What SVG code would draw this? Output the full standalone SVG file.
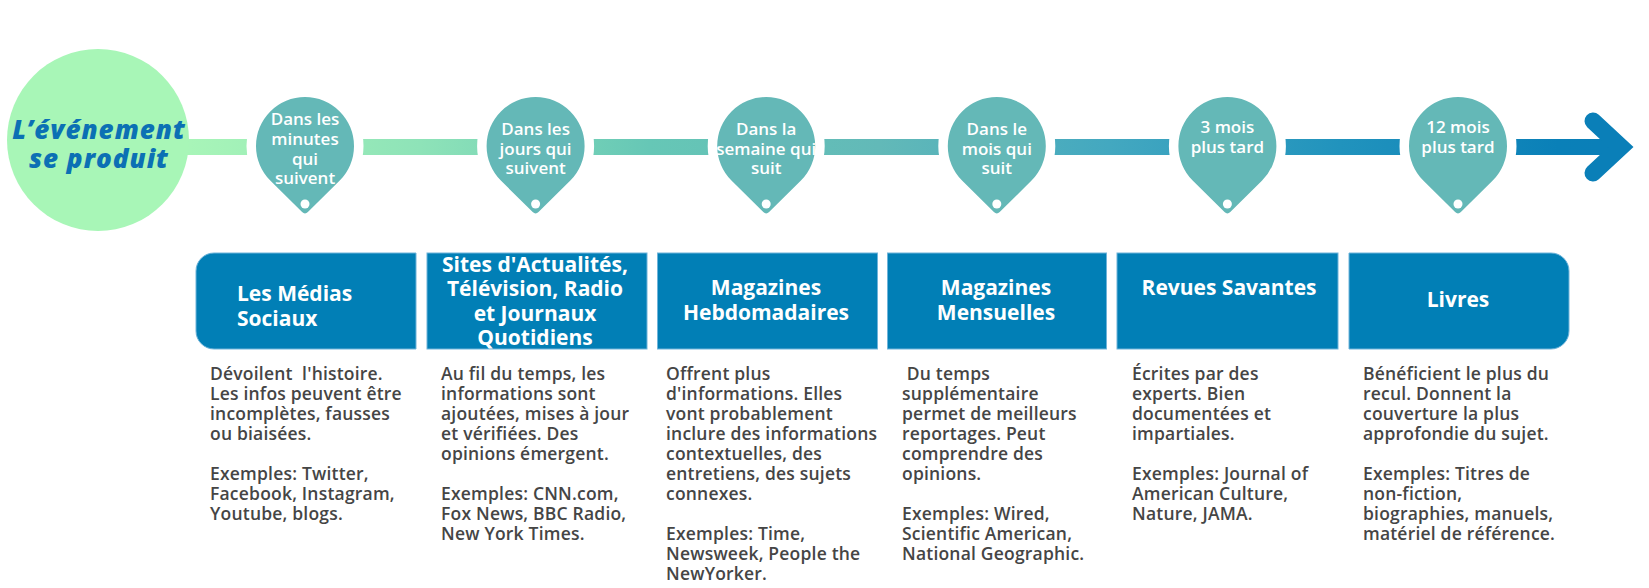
<svg xmlns="http://www.w3.org/2000/svg" width="1649" height="588" viewBox="0 0 1649 588">
<defs>
<linearGradient id="barGrad" gradientUnits="userSpaceOnUse" x1="190" y1="0" x2="1600" y2="0">
<stop offset="0" stop-color="#a8f5b8"/>
<stop offset="0.163" stop-color="#8ee3b8"/>
<stop offset="0.326" stop-color="#66c7b6"/>
<stop offset="0.489" stop-color="#62b9b8"/>
<stop offset="0.652" stop-color="#43a8c0"/>
<stop offset="0.816" stop-color="#2193bd"/>
<stop offset="0.97" stop-color="#0a80b8"/>
<stop offset="1" stop-color="#0a7fb8"/>
</linearGradient>
<path id="pin" d="M-34.5,180.8 A49,49 0 1 1 34.5,180.8 L2.9,212.1 Q0,215 -2.9,212.1 Z"/>
</defs>
<style>
.pin{fill:#64b8b7;stroke:#ffffff;stroke-width:19;paint-order:stroke;stroke-linejoin:round}
.dot{fill:#ffffff}
.pt{font-family:"Open Sans","Noto Sans",sans-serif;font-weight:600;font-size:17px;fill:#ffffff;text-anchor:middle}
.box{fill:#017fb6;stroke:#6fb4da;stroke-width:1}
.bt{font-family:"Open Sans","Noto Sans",sans-serif;font-weight:700;font-size:21px;fill:#ffffff;text-anchor:middle}
.body{font-family:"Open Sans","Noto Sans",sans-serif;font-weight:600;font-size:17.5px;letter-spacing:0.2px;fill:#454545}
.start{font-family:"Open Sans","Noto Sans",sans-serif;font-weight:800;font-style:italic;font-size:26px;letter-spacing:1px;fill:#0b70b4;text-anchor:middle}
</style>
<rect width="1649" height="588" fill="#ffffff"/>

<g id="connectors">
<rect x="100" y="139" width="1522" height="16" fill="url(#barGrad)"/>
<path d="M1593,121 L1621,147 L1593,173" fill="none" stroke="#0a7fb8" stroke-width="17" stroke-linecap="round" stroke-linejoin="miter"/>
</g>

<g id="node-start">
<circle cx="98" cy="140" r="91" fill="#a8f6b7"/>
<text class="start" x="99" y="139">L’événement</text>
<text class="start" x="99" y="168">se produit</text>
</g>

<g id="pin-1">
<use href="#pin" class="pin" x="305"/>
<circle class="dot" cx="305" cy="204" r="4.5"/>
<text class="pt" x="305" y="125">Dans les</text>
<text class="pt" x="305" y="145">minutes</text>
<text class="pt" x="305" y="165">qui</text>
<text class="pt" x="305" y="184">suivent</text>
</g>

<g id="pin-2">
<use href="#pin" class="pin" x="535.6"/>
<circle class="dot" cx="535.6" cy="204" r="4.5"/>
<text class="pt" x="535.6" y="135">Dans les</text>
<text class="pt" x="535.6" y="154.5">jours qui</text>
<text class="pt" x="535.6" y="174">suivent</text>
</g>

<g id="pin-3">
<use href="#pin" class="pin" x="766.2"/>
<circle class="dot" cx="766.2" cy="204" r="4.5"/>
<text class="pt" x="766.2" y="135">Dans la</text>
<text class="pt" x="766.2" y="154.5">semaine qui</text>
<text class="pt" x="766.2" y="174">suit</text>
</g>

<g id="pin-4">
<use href="#pin" class="pin" x="996.8"/>
<circle class="dot" cx="996.8" cy="204" r="4.5"/>
<text class="pt" x="996.8" y="135">Dans le</text>
<text class="pt" x="996.8" y="154.5">mois qui</text>
<text class="pt" x="996.8" y="174">suit</text>
</g>

<g id="pin-5">
<use href="#pin" class="pin" x="1227.4"/>
<circle class="dot" cx="1227.4" cy="204" r="4.5"/>
<text class="pt" x="1227.4" y="133">3 mois</text>
<text class="pt" x="1227.4" y="153">plus tard</text>
</g>

<g id="pin-6">
<use href="#pin" class="pin" x="1458"/>
<circle class="dot" cx="1458" cy="204" r="4.5"/>
<text class="pt" x="1458" y="133">12 mois</text>
<text class="pt" x="1458" y="153">plus tard</text>
</g>

<g id="box-1">
<path class="box" d="M214,253 H416 V349 H214 A18,18 0 0 1 196,331 V271 A18,18 0 0 1 214,253 Z"/>
<text class="bt" x="237" y="301" style="text-anchor:start">Les Médias</text>
<text class="bt" x="237" y="326" style="text-anchor:start">Sociaux</text>
<text class="body" x="210" y="380">
<tspan x="210" dy="0">Dévoilent&#160; l'histoire.</tspan>
<tspan x="210" dy="20">Les infos peuvent être</tspan>
<tspan x="210" dy="20">incomplètes, fausses</tspan>
<tspan x="210" dy="20">ou biaisées.</tspan>
<tspan x="210" dy="40">Exemples: Twitter,</tspan>
<tspan x="210" dy="20">Facebook, Instagram,</tspan>
<tspan x="210" dy="20">Youtube, blogs.</tspan>
</text>
</g>

<g id="box-2">
<rect class="box" x="427" y="253" width="220" height="96"/>
<text class="bt" x="535" y="271.5">Sites d'Actualités,</text>
<text class="bt" x="535" y="296">Télévision, Radio</text>
<text class="bt" x="535" y="320.5">et Journaux</text>
<text class="bt" x="535" y="345">Quotidiens</text>
<text class="body" x="441" y="380">
<tspan x="441" dy="0">Au fil du temps, les</tspan>
<tspan x="441" dy="20">informations sont</tspan>
<tspan x="441" dy="20">ajoutées, mises à jour</tspan>
<tspan x="441" dy="20">et vérifiées. Des</tspan>
<tspan x="441" dy="20">opinions émergent.</tspan>
<tspan x="441" dy="40">Exemples: CNN.com,</tspan>
<tspan x="441" dy="20">Fox News, BBC Radio,</tspan>
<tspan x="441" dy="20">New York Times.</tspan>
</text>
</g>

<g id="box-3">
<rect class="box" x="657.5" y="253" width="220" height="96"/>
<text class="bt" x="766" y="295">Magazines</text>
<text class="bt" x="766" y="320">Hebdomadaires</text>
<text class="body" x="666" y="380">
<tspan x="666" dy="0">Offrent plus</tspan>
<tspan x="666" dy="20">d'informations. Elles</tspan>
<tspan x="666" dy="20">vont probablement</tspan>
<tspan x="666" dy="20">inclure des informations</tspan>
<tspan x="666" dy="20">contextuelles, des</tspan>
<tspan x="666" dy="20">entretiens, des sujets</tspan>
<tspan x="666" dy="20">connexes.</tspan>
<tspan x="666" dy="40">Exemples: Time,</tspan>
<tspan x="666" dy="20">Newsweek, People the</tspan>
<tspan x="666" dy="20">NewYorker.</tspan>
</text>
</g>

<g id="box-4">
<rect class="box" x="887.5" y="253" width="219" height="96"/>
<text class="bt" x="996" y="295">Magazines</text>
<text class="bt" x="996" y="320">Mensuelles</text>
<text class="body" x="902" y="380">
<tspan x="902" dy="0">&#160;Du temps</tspan>
<tspan x="902" dy="20">supplémentaire</tspan>
<tspan x="902" dy="20">permet de meilleurs</tspan>
<tspan x="902" dy="20">reportages. Peut</tspan>
<tspan x="902" dy="20">comprendre des</tspan>
<tspan x="902" dy="20">opinions.</tspan>
<tspan x="902" dy="40">Exemples: Wired,</tspan>
<tspan x="902" dy="20">Scientific American,</tspan>
<tspan x="902" dy="20">National Geographic.</tspan>
</text>
</g>

<g id="box-5">
<rect class="box" x="1117" y="253" width="221" height="96"/>
<text class="bt" x="1229" y="295">Revues Savantes</text>
<text class="body" x="1132" y="380">
<tspan x="1132" dy="0">Écrites par des</tspan>
<tspan x="1132" dy="20">experts. Bien</tspan>
<tspan x="1132" dy="20">documentées et</tspan>
<tspan x="1132" dy="20">impartiales.</tspan>
<tspan x="1132" dy="40">Exemples: Journal of</tspan>
<tspan x="1132" dy="20">American Culture,</tspan>
<tspan x="1132" dy="20">Nature, JAMA.</tspan>
</text>
</g>

<g id="box-6">
<path class="box" d="M1349,253 H1551 A18,18 0 0 1 1569,271 V331 A18,18 0 0 1 1551,349 H1349 Z"/>
<text class="bt" x="1458" y="307">Livres</text>
<text class="body" x="1363" y="380">
<tspan x="1363" dy="0">Bénéficient le plus du</tspan>
<tspan x="1363" dy="20">recul. Donnent la</tspan>
<tspan x="1363" dy="20">couverture la plus</tspan>
<tspan x="1363" dy="20">approfondie du sujet.</tspan>
<tspan x="1363" dy="40">Exemples: Titres de</tspan>
<tspan x="1363" dy="20">non-fiction,</tspan>
<tspan x="1363" dy="20">biographies, manuels,</tspan>
<tspan x="1363" dy="20">matériel de référence.</tspan>
</text>
</g>
</svg>
